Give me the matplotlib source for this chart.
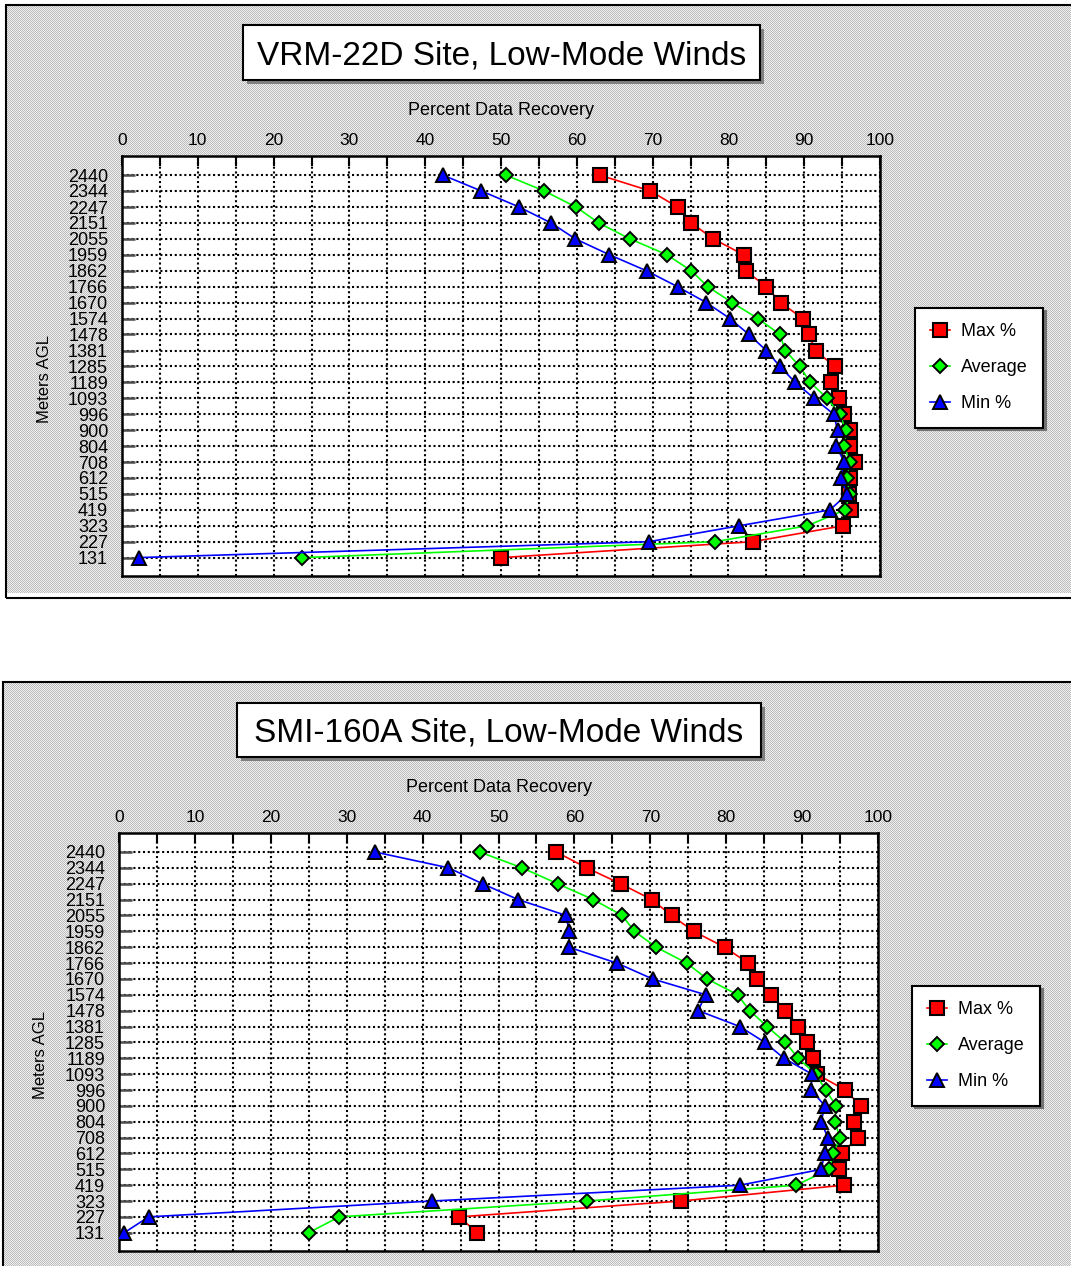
import numpy as np
import matplotlib
matplotlib.use("Agg")
import matplotlib.pyplot as plt
from matplotlib.patches import Rectangle
from matplotlib.ticker import MultipleLocator

plt.rcParams['font.family'] = ['Liberation Sans', 'DejaVu Sans']

# sensor heights, metres above ground level
heights = [2440, 2344, 2247, 2151, 2055, 1959, 1862, 1766, 1670, 1574, 1478, 1381,
           1285, 1189, 1093, 996, 900, 804, 708, 612, 515, 419, 323, 227, 131]

# VRM-22D percent data recovery
vrm_max = [63.0, 69.7, 73.3, 75.1, 78.0, 82.0, 82.3, 85.0, 86.9, 89.8, 90.6, 91.5,
           94.0, 93.5, 94.6, 95.2, 96.0, 96.0, 96.7, 96.0, 95.9, 96.2, 95.1, 83.2, 50.0]
vrm_avg = [50.6, 55.7, 59.9, 62.9, 67.0, 71.9, 75.1, 77.3, 80.5, 83.9, 86.8, 87.5,
           89.4, 90.8, 93.0, 94.7, 95.5, 95.3, 96.0, 95.6, 96.0, 95.4, 90.4, 78.2, 23.8]
vrm_min = [42.3, 47.4, 52.4, 56.6, 59.8, 64.3, 69.2, 73.3, 77.1, 80.2, 82.7, 85.0,
           86.8, 88.8, 91.3, 93.9, 94.4, 94.2, 95.3, 94.8, 95.7, 93.4, 81.4, 69.5, 2.2]

# SMI-160A percent data recovery
smi_max = [57.6, 61.6, 66.1, 70.2, 72.8, 75.7, 79.8, 82.9, 84.0, 85.9, 87.8, 89.5,
           90.6, 91.4, 91.9, 95.7, 97.7, 96.8, 97.3, 95.2, 94.8, 95.5, 74.0, 44.8, 47.2]
smi_avg = [47.5, 53.1, 57.8, 62.5, 66.3, 67.9, 70.8, 74.8, 77.5, 81.5, 83.1, 85.4,
           87.8, 89.5, 91.8, 93.1, 94.5, 94.3, 95.0, 94.1, 93.6, 89.2, 61.6, 29.0, 25.0]
smi_min = [33.7, 43.4, 47.9, 52.6, 58.9, 59.3, 59.3, 65.6, 70.3, 77.3, 76.3, 81.8,
           85.1, 87.6, 91.3, 91.2, 93.0, 92.5, 93.4, 93.0, 92.5, 81.8, 41.2, 3.9, 0.7]

W, H = 1071, 1266
fig = plt.figure(figsize=(W / 100, H / 100), dpi=100)


def fx(x):
    return x / W


def fy(y):
    return 1 - y / H


# dithered grey panel backgrounds
img = np.ones((H, W, 3))
yy, xx = np.mgrid[0:H, 0:W]
checker = np.where((xx + yy) % 2 == 0, 0.74, 0.94)
panels = [(6, 5, W, 593), (3, 682, W, H)]
for x0, y0, x1, y1 in panels:
    for c in range(3):
        img[y0:y1, x0:x1, c] = checker[y0:y1, x0:x1]
fig.figimage(img, 0, 0, origin='upper', zorder=-5)

for x0, y0, x1, y1 in panels:
    fig.patches.append(Rectangle((fx(x0), fy(y1 + 5)), fx(x1 + 10 - x0), fy(y0) - fy(y1 + 5),
                                 transform=fig.transFigure, fill=False,
                                 edgecolor='black', linewidth=1.5, zorder=1))


def title_box(text, x0, y0, x1, y1):
    sh = 4
    fig.patches.append(Rectangle((fx(x0 + sh), fy(y1 + sh)), fx(x1 - x0), fy(y0) - fy(y1),
                                 transform=fig.transFigure, facecolor='0.5',
                                 edgecolor='none', zorder=1))
    fig.patches.append(Rectangle((fx(x0), fy(y1)), fx(x1 - x0), fy(y0) - fy(y1),
                                 transform=fig.transFigure, facecolor='white',
                                 edgecolor='black', linewidth=1.5, zorder=2))
    fig.text(fx((x0 + x1) / 2), fy((y0 + y1) / 2), text, fontsize=24,
             ha='center', va='center_baseline', zorder=3)


def draw_chart(ax, mx, avg, mn, legend_xy):
    ax.plot(mx, heights, color='#ff0000', lw=1.2, marker='s', ms=9.5,
            mfc='#ff0000', mec='black', mew=1.5, label='Max %', zorder=3)
    ax.plot(avg, heights, color='#00ff00', lw=1.2, marker='D', ms=7,
            mfc='#00ff00', mec='black', mew=1.4, label='Average', zorder=4)
    ax.plot(mn, heights, color='#0000ff', lw=1.2, marker='^', ms=9.5,
            mfc='#0000ff', mec='black', mew=1.4, label='Min %', zorder=5)

    ax.set_xlim(0, 100)
    ax.set_ylim(20, 2555)
    ax.xaxis.tick_top()
    ax.xaxis.set_label_position('top')
    ax.xaxis.set_major_locator(MultipleLocator(10))
    ax.xaxis.set_minor_locator(MultipleLocator(5))
    ax.set_yticks(heights)
    ax.set_yticklabels([str(h) for h in heights])

    ax.tick_params(axis='x', which='both', direction='in', length=7, width=1.5,
                   labelsize=12.5, pad=6, top=True, bottom=False)
    ax.tick_params(axis='y', direction='in', length=9, width=1.8, color='0.3',
                   labelsize=13, pad=10)
    ax.set_xlabel('Percent Data Recovery', fontsize=13, labelpad=13)
    ax.set_ylabel('Meters AGL', fontsize=12)
    ax.yaxis.set_label_coords(-0.093, 0.47)

    ax.grid(True, which='both', axis='x', color='black', lw=1.5, ls=(0, (1, 1.3)))
    ax.grid(True, which='major', axis='y', color='black', lw=1.5, ls=(0, (1, 1.3)))
    ax.set_axisbelow(True)
    for s in ax.spines.values():
        s.set_linewidth(1.8)

    leg = ax.legend(loc='upper left', bbox_to_anchor=legend_xy,
                    bbox_transform=fig.transFigure, borderaxespad=0,
                    fontsize=13, fancybox=False, framealpha=1, edgecolor='black',
                    handlelength=1.1, handletextpad=0.6, labelspacing=1.05,
                    borderpad=0.85,
                    shadow={'facecolor': '0.45', 'edgecolor': '0.45', 'alpha': 1})
    leg.get_frame().set_linewidth(1.5)


ax1 = fig.add_axes([fx(122), fy(576), fx(880 - 122), fy(156) - fy(576)])
ax2 = fig.add_axes([fx(119), fy(1251), fx(878 - 119), fy(833) - fy(1251)])

title_box('VRM-22D Site, Low-Mode Winds', 243, 25, 760, 80)
title_box('SMI-160A Site, Low-Mode Winds', 237, 703, 761, 757)

draw_chart(ax1, vrm_max, vrm_avg, vrm_min, (fx(915), fy(308)))
draw_chart(ax2, smi_max, smi_avg, smi_min, (fx(912), fy(986)))

fig.savefig('out.png', dpi=100)
